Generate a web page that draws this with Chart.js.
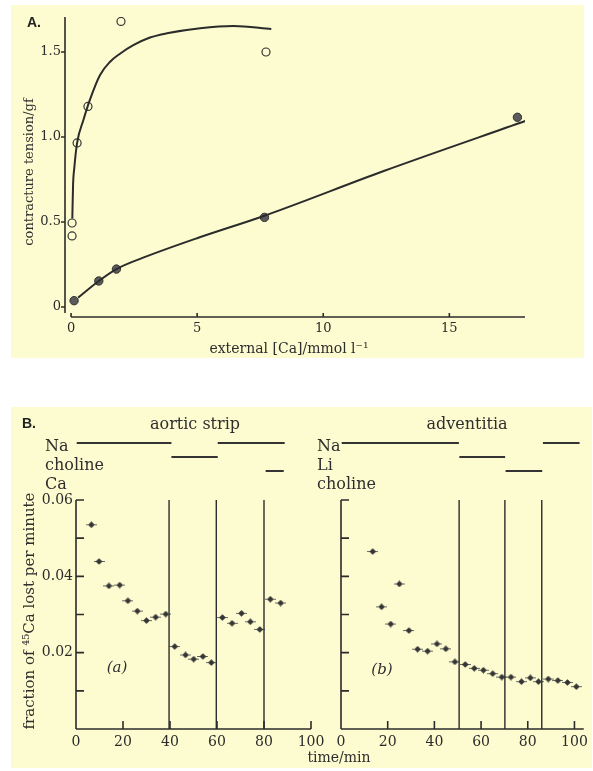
<!DOCTYPE html>
<html><head><meta charset="utf-8">
<script src="https://cdn.jsdelivr.net/npm/chart.js@4.4.1/dist/chart.umd.min.js"></script>
<style>
html,body{margin:0;padding:0;background:#fff;width:593px;height:771px;overflow:hidden;position:relative;}
.panel{position:absolute;background:#FDFCD0;}
.t{position:absolute;font-family:'DejaVu Serif',serif;color:#2e2e2e;white-space:nowrap;line-height:1;}
.c{transform:translate(-50%,-50%);}
.r{transform:translate(-50%,-50%) rotate(-90deg);}
.l{transform:translateY(-50%);}
canvas{position:absolute;}
</style></head><body>
<div class="panel" style="left:11px;top:5px;width:573px;height:353px"></div>
<div class="panel" style="left:11px;top:407px;width:581px;height:361px"></div>
<canvas id="chartA" width="573" height="353" style="left:11px;top:5px;width:573px;height:353px"></canvas>
<canvas id="chartB1" width="320" height="361" style="left:11px;top:407px;width:320px;height:361px"></canvas>
<canvas id="chartB2" width="262" height="361" style="left:331px;top:407px;width:262px;height:361px"></canvas>

<div class="t l" style="left:27px;top:22px;font:bold 14px 'Liberation Sans',sans-serif;color:#222">A.</div>
<div class="t r" style="left:28px;top:172px;font-size:13px">contracture tension/gf</div>
<div class="t c" style="left:289px;top:348px;font-size:14px">external [Ca]/mmol l⁻¹</div>

<div class="t l" style="left:22px;top:423px;font:bold 14px 'Liberation Sans',sans-serif;color:#222">B.</div>
<div class="t c" style="left:195px;top:424px;font-size:16px">aortic strip</div>
<div class="t c" style="left:467px;top:424px;font-size:16px">adventitia</div>
<div class="t l" style="left:45px;top:446px;font-size:16px">Na</div>
<div class="t l" style="left:45px;top:465px;font-size:16px">choline</div>
<div class="t l" style="left:45px;top:484px;font-size:16px">Ca</div>
<div class="t l" style="left:317px;top:446px;font-size:16px">Na</div>
<div class="t l" style="left:317px;top:465px;font-size:16px">Li</div>
<div class="t l" style="left:317px;top:484px;font-size:16px">choline</div>
<div class="t c" style="left:117px;top:667px;font-size:15px;font-style:italic">(a)</div>
<div class="t c" style="left:382px;top:669px;font-size:15px;font-style:italic">(b)</div>
<div class="t r" style="left:29px;top:611px;font-size:15px">fraction of ⁴⁵Ca lost per minute</div>
<div class="t c" style="left:339px;top:757px;font-size:14px">time/min</div>

<script>
// ---------- Panel A data ----------
const caOpen = [0.04, 0.04, 0.24, 0.67, 1.98, 7.73];
const tensionOpen = [0.418, 0.494, 0.965, 1.18, 1.68, 1.50];
const caFilled = [0.12, 1.1, 1.8, 7.67, 17.7];
const tensionFilled = [0.037, 0.153, 0.223, 0.527, 1.116];
const curveOpenCa = [0.05, 0.08, 0.13, 0.24, 0.49, 0.75, 1.15, 1.55, 1.94, 2.47, 3.13, 3.8, 5.12, 6.44, 7.94];
const curveOpenT = [0.52, 0.72, 0.82, 0.965, 1.1, 1.22, 1.365, 1.443, 1.49, 1.54, 1.585, 1.61, 1.64, 1.653, 1.635];
const curveFilledCa = [0.28, 1.1, 1.8, 2.86, 5.1, 7.67, 12.4, 18.05];
const curveFilledT = [0.055, 0.153, 0.223, 0.29, 0.41, 0.537, 0.80, 1.096];
const aXTicks = [0, 5, 10, 15];
const aYTicks = [0, 0.5, 1.0, 1.5];

// ---------- Panel B data ----------
const timeAortic = [6.55, 9.8, 14.0, 18.6, 22.1, 26.1, 30, 33.9, 38.2, 42, 46.6, 50.1, 54, 57.6, 62.3, 66.4, 70.4, 74.2, 78.2, 82.7, 87.1];
const fracAortic = [0.0535, 0.0439, 0.0375, 0.0377, 0.0336, 0.0309, 0.0284, 0.0293, 0.0301, 0.0216, 0.0194, 0.0183, 0.019, 0.0174, 0.0292, 0.0277, 0.0303, 0.0281, 0.0261, 0.034, 0.033];
const timeAdv = [13.6, 17.4, 21.3, 25, 29.1, 32.8, 37.1, 41.1, 44.9, 48.8, 53.2, 57.1, 61, 65, 68.9, 72.8, 77.3, 81.1, 84.6, 88.8, 92.9, 97, 100.8];
const fracAdv = [0.0465, 0.032, 0.0275, 0.038, 0.0258, 0.0209, 0.0204, 0.0223, 0.021, 0.0176, 0.0169, 0.0159, 0.0154, 0.0145, 0.0136, 0.0136, 0.0124, 0.0134, 0.0124, 0.0131, 0.0127, 0.0122, 0.0111];
const changesAortic = [39.6, 59.7, 80];
const changesAdv = [50.6, 70.2, 86.0];
const aorticNa = [[0.3, 40.6], [60.3, 88.8]];
const aorticCholine = [[40.6, 60.3]];
const aorticCa = [[80.7, 88.4]];
const advNa = [[0.3, 50.5], [86.5, 102.2]];
const advLi = [[50.7, 70.3]];
const advCholine = [[70.5, 86.2]];
const bXTicks = [0, 20, 40, 60, 80, 100];
const bYTicks = [0, 0.01, 0.02, 0.03, 0.04, 0.05, 0.06];
const bYLabelled = [0.02, 0.04, 0.06];

// ---------- styling ----------
const INK = '#2b2b2b';
const BG = '#FDFCD0';
Chart.defaults.font.family = "'DejaVu Serif', serif";
Chart.defaults.color = INK;
Chart.defaults.animation = false;

const zip = (xs, ys) => xs.map((x, i) => ({x, y: ys[i]}));

const axesPlugin = {
  id: 'drawAxes',
  beforeDatasetsDraw(chart, args, o) {
    const {ctx} = chart;
    const xs = chart.scales.x, ys = chart.scales.y;
    ctx.save();
    ctx.strokeStyle = INK; ctx.lineWidth = o.width; ctx.lineCap = 'butt';
    const ax = xs.getPixelForValue(o.yAxisAtX);
    const yb = ys.getPixelForValue(o.xAxisAtY);
    ctx.beginPath();
    ctx.moveTo(ax, ys.getPixelForValue(o.yLineTo)); ctx.lineTo(ax, ys.getPixelForValue(o.yLineFrom));
    ctx.moveTo(xs.getPixelForValue(o.xLineFrom), yb); ctx.lineTo(xs.getPixelForValue(o.xLineTo), yb);
    ys.ticks.forEach(t => { if (o.ySkip.includes(t.value)) return; const p = ys.getPixelForValue(t.value); ctx.moveTo(ax, p); ctx.lineTo(ax + o.yTickLen, p); });
    xs.ticks.forEach(t => { if (o.xSkip.includes(t.value)) return; const p = xs.getPixelForValue(t.value); ctx.moveTo(p, yb); ctx.lineTo(p, yb - o.xTickLen); });
    ctx.stroke();
    ctx.restore();
  }
};

// marker for panel B
function makeMarker() {
  const c = document.createElement('canvas'); c.width = 11; c.height = 7;
  const g = c.getContext('2d');
  g.fillStyle = '#6a6a6a'; g.fillRect(0, 3, 11, 1);
  g.fillStyle = '#353535';
  g.beginPath(); g.moveTo(5.5, 0.2); g.lineTo(8.9, 3.5); g.lineTo(5.5, 6.8); g.lineTo(2.1, 3.5); g.closePath(); g.fill();
  return c;
}
const marker = makeMarker();

// ---------- Chart A ----------
new Chart(document.getElementById('chartA'), {
  type: 'scatter',
  data: {
    datasets: [
      {data: zip(curveOpenCa, curveOpenT), showLine: true, borderColor: INK, borderWidth: 2, pointRadius: 0, cubicInterpolationMode: 'monotone'},
      {data: zip(curveFilledCa, curveFilledT), showLine: true, borderColor: INK, borderWidth: 2, pointRadius: 0, cubicInterpolationMode: 'monotone'},
      {data: zip(caOpen, tensionOpen), pointStyle: 'circle', pointRadius: 4, borderWidth: 1.2, borderColor: '#333', backgroundColor: BG},
      {data: zip(caFilled, tensionFilled), pointStyle: 'circle', pointRadius: 4.2, borderWidth: 1, borderColor: '#333', backgroundColor: '#5a5a5a'}
    ]
  },
  options: {
    responsive: false, devicePixelRatio: 1,
    layout: {padding: {left: 0, top: 12, right: 59, bottom: 0}},
    plugins: {legend: {display: false}, tooltip: {enabled: false},
      drawAxes: {width: 1.6, yAxisAtX: -0.24, yLineFrom: -0.035, yLineTo: 1.706, xAxisAtY: -0.059, xLineFrom: 0, xLineTo: 18, yTickLen: -4, xTickLen: 4, ySkip: [], xSkip: []}},
    scales: {
      x: {type: 'linear', min: -0.24, max: 18, border: {display: false}, grid: {display: false, drawTicks: false},
        afterBuildTicks: s => { s.ticks = aXTicks.map(v => ({value: v})); },
        afterFit: s => { s.height = 41; },
        ticks: {padding: 4, font: {size: 13}, callback: v => String(v)}},
      y: {type: 'linear', min: -0.059, max: 1.706, border: {display: false}, grid: {display: false, drawTicks: false},
        afterBuildTicks: s => { s.ticks = aYTicks.map(v => ({value: v})); },
        afterFit: s => { s.width = 54; },
        ticks: {padding: 4, font: {size: 13}, callback: v => v === 0 ? '0' : v.toFixed(1)}}
    }
  },
  plugins: [axesPlugin]
});

// ---------- Chart B helpers ----------
function rowSets(rows) {
  const out = [];
  rows.forEach((segs, row) => segs.forEach(s => out.push({
    data: [{x: s[0], y: row + 0.5}, {x: s[1], y: row + 0.5}], yAxisID: 'rows', showLine: true,
    borderColor: '#333', borderWidth: 2, pointRadius: 0
  })));
  return out;
}
function changeSets(times) {
  const top = bYTicks[bYTicks.length - 1];
  return times.map(t => ({data: [{x: t, y: 0}, {x: t, y: top}], showLine: true, borderColor: INK, borderWidth: 1.4, pointRadius: 0}));
}
function bChart(id, times, fracs, changes, rows, xMax, yWidth, padRight, showYLabels, xLineTo) {
  new Chart(document.getElementById(id), {
    type: 'scatter',
    data: {datasets: [
      ...rowSets(rows),
      ...changeSets(changes),
      {data: zip(times, fracs), pointStyle: marker, pointRadius: 4}
    ]},
    options: {
      responsive: false, devicePixelRatio: 1,
      layout: {padding: {left: 0, top: 29, right: padRight, bottom: 0}},
      plugins: {legend: {display: false}, tooltip: {enabled: false},
        drawAxes: {width: 1.6, yAxisAtX: 0, yLineFrom: 0, yLineTo: 0.06, xAxisAtY: 0, xLineFrom: 0, xLineTo: xLineTo, yTickLen: 8, xTickLen: 8, ySkip: [0], xSkip: [0]}},
      scales: {
        x: {type: 'linear', min: 0, max: xMax, border: {display: false}, grid: {display: false, drawTicks: false},
          afterBuildTicks: s => { s.ticks = bXTicks.map(v => ({value: v})); },
          afterFit: s => { s.height = 39; },
          ticks: {padding: 5, font: {size: 14}, callback: v => String(v)}},
        y: {type: 'linear', min: 0, max: 0.07677, border: {display: false}, grid: {display: false, drawTicks: false},
          afterBuildTicks: s => { s.ticks = bYTicks.map(v => ({value: v})); },
          afterFit: s => { s.width = yWidth; },
          ticks: {padding: 3, font: {size: 14}, callback: v => (showYLabels && bYLabelled.some(l => Math.abs(l - v) < 1e-9)) ? v.toFixed(2) : ''}},
        rows: {type: 'linear', position: 'right', display: false, reverse: true, min: 0, max: 20.93}
      }
    },
    plugins: [axesPlugin]
  });
}

bChart('chartB1', timeAortic, fracAortic, changesAortic, [aorticNa, aorticCholine, aorticCa], 100, 65, 20, true, 100);
bChart('chartB2', timeAdv, fracAdv, changesAdv, [advNa, advLi, advCholine], 104, 10, 2, false, 104);
</script>
</body></html>
